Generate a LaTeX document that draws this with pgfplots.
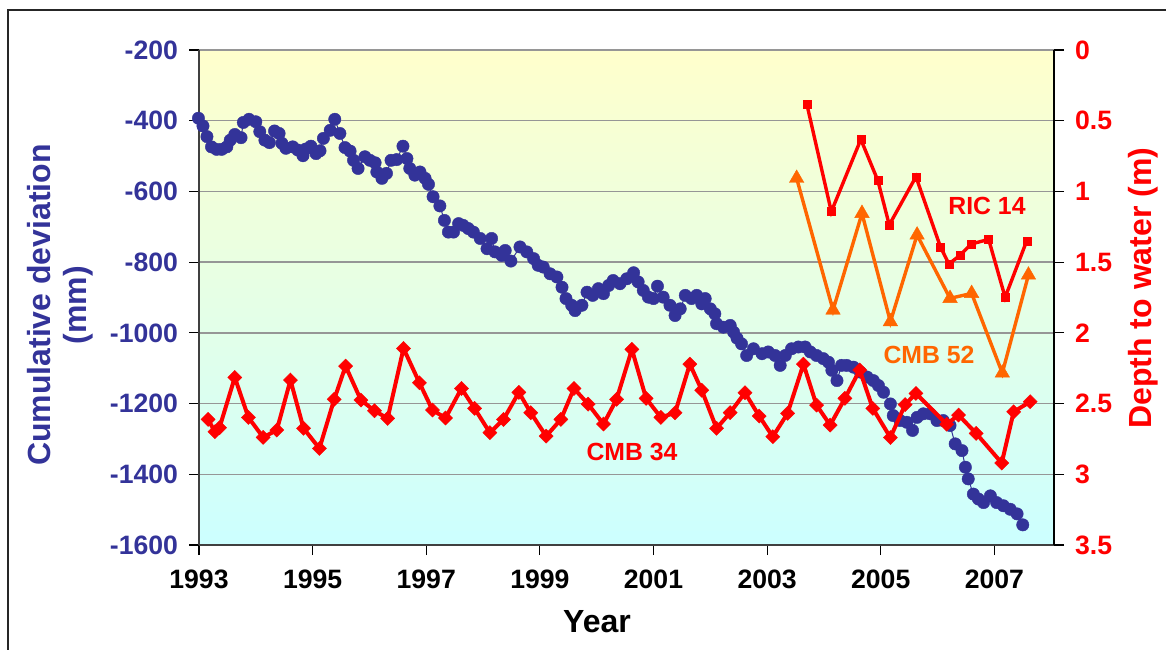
\documentclass[border=0pt]{standalone}
\usepackage{pgfplots}
\usepackage{pgfplotstable}
\pgfplotsset{compat=1.18}
\usepackage{fontspec}
\setmainfont{Liberation Sans}
\definecolor{cblue}{RGB}{51,51,153}
\definecolor{cred}{RGB}{255,0,0}
\definecolor{corange}{RGB}{255,102,0}
\definecolor{cgrid}{RGB}{150,150,150}
\definecolor{bgtop}{RGB}{255,255,204}
\definecolor{bgbot}{RGB}{204,255,255}
\definecolor{caxis}{RGB}{64,64,64}

\pgfplotstableread{
x y
1992.99 -393
1993.07 -415
1993.14 -445
1993.22 -474
1993.31 -481
1993.40 -481
1993.49 -474
1993.55 -455
1993.63 -439
1993.74 -448
1993.78 -405
1993.88 -396
1994.00 -403
1994.07 -431
1994.16 -455
1994.24 -462
1994.33 -429
1994.41 -436
1994.46 -464
1994.53 -478
1994.65 -474
1994.74 -483
1994.83 -499
1994.88 -480
1994.97 -472
1995.06 -493
1995.13 -485
1995.19 -450
1995.31 -427
1995.39 -396
1995.48 -436
1995.57 -476
1995.66 -486
1995.72 -512
1995.80 -535
1995.92 -502
1996.01 -512
1996.10 -519
1996.13 -545
1996.22 -563
1996.30 -549
1996.38 -512
1996.48 -510
1996.59 -472
1996.66 -507
1996.71 -535
1996.80 -554
1996.89 -545
1996.98 -563
1997.04 -580
1997.12 -615
1997.24 -641
1997.32 -682
1997.39 -715
1997.48 -715
1997.57 -691
1997.65 -696
1997.74 -705
1997.83 -715
1997.95 -733
1998.07 -762
1998.15 -733
1998.21 -771
1998.33 -781
1998.39 -767
1998.49 -797
1998.65 -757
1998.77 -771
1998.89 -790
1998.97 -809
1999.06 -814
1999.18 -833
1999.30 -842
1999.39 -871
1999.46 -903
1999.56 -922
1999.62 -937
1999.74 -922
1999.83 -885
1999.93 -894
2000.03 -875
2000.12 -889
2000.21 -866
2000.29 -852
2000.41 -861
2000.53 -847
2000.65 -830
2000.73 -856
2000.82 -880
2000.91 -899
2001.00 -903
2001.07 -868
2001.17 -899
2001.29 -922
2001.38 -951
2001.47 -932
2001.56 -894
2001.67 -903
2001.76 -894
2001.85 -918
2001.91 -903
2002.00 -932
2002.08 -946
2002.11 -974
2002.23 -984
2002.35 -979
2002.41 -998
2002.47 -1015
2002.55 -1031
2002.64 -1064
2002.76 -1045
2002.91 -1059
2003.02 -1054
2003.14 -1064
2003.23 -1092
2003.32 -1064
2003.43 -1045
2003.55 -1040
2003.67 -1040
2003.76 -1054
2003.87 -1064
2003.99 -1073
2004.08 -1083
2004.14 -1106
2004.23 -1135
2004.31 -1092
2004.40 -1092
2004.52 -1097
2004.64 -1111
2004.76 -1125
2004.87 -1135
2004.96 -1149
2005.05 -1168
2005.17 -1201
2005.22 -1234
2005.34 -1248
2005.46 -1253
2005.56 -1276
2005.64 -1239
2005.75 -1229
2005.87 -1229
2005.99 -1248
2006.10 -1248
2006.22 -1262
2006.31 -1314
2006.43 -1333
2006.49 -1380
2006.54 -1413
2006.63 -1456
2006.72 -1470
2006.81 -1480
2006.93 -1461
2007.04 -1480
2007.16 -1489
2007.28 -1499
2007.40 -1512
2007.50 -1543
}\cumdev

\pgfplotstableread{
x y
1993.16 2.612
1993.28 2.699
1993.36 2.671
1993.63 2.315
1993.87 2.598
1994.13 2.739
1994.37 2.687
1994.61 2.334
1994.84 2.675
1995.12 2.817
1995.38 2.470
1995.58 2.235
1995.85 2.475
1996.09 2.551
1996.32 2.605
1996.60 2.110
1996.88 2.353
1997.11 2.546
1997.34 2.602
1997.62 2.393
1997.85 2.534
1998.12 2.706
1998.36 2.612
1998.63 2.421
1998.84 2.565
1999.11 2.730
1999.37 2.612
1999.60 2.393
1999.85 2.504
2000.12 2.645
2000.35 2.470
2000.62 2.117
2000.87 2.463
2001.13 2.598
2001.38 2.565
2001.64 2.221
2001.85 2.406
2002.11 2.675
2002.35 2.564
2002.61 2.423
2002.86 2.588
2003.10 2.734
2003.36 2.569
2003.64 2.221
2003.87 2.511
2004.11 2.652
2004.37 2.463
2004.63 2.263
2004.86 2.534
2005.17 2.740
2005.43 2.507
2005.62 2.428
2006.16 2.646
2006.37 2.581
2006.68 2.711
2007.13 2.920
2007.34 2.558
2007.63 2.487
}\cmbtf

\pgfplotstableread{
x y
2003.52 0.907
2004.16 1.839
2004.67 1.155
2005.17 1.921
2005.64 1.308
2006.22 1.756
2006.60 1.721
2007.14 2.284
2007.60 1.591
}\cmbft

\pgfplotstableread{
x y
2003.70 0.384
2004.13 1.143
2004.65 0.632
2004.95 0.924
2005.15 1.237
2005.62 0.896
2006.05 1.391
2006.20 1.513
2006.40 1.450
2006.59 1.372
2006.90 1.339
2007.19 1.749
2007.57 1.349
}\ricft

\begin{document}
\begin{tikzpicture}
\path[use as bounding box] (0pt,0pt) rectangle (583pt,324.5pt);
\draw[line width=0.8pt, black!85] (4pt,-10pt) -- (4pt,319.5pt) -- (600pt,319.5pt);

\begin{axis}[
  at={(99.5pt,52pt)}, anchor=south west,
  scale only axis, width=427.5pt, height=247.5pt,
  xmin=1993, xmax=2008.05, ymin=-1600, ymax=-200,
  axis x line*=bottom, axis y line*=left,
  xtick={1993,1995,...,2007}, ytick={-1600,-1400,...,-200},
  minor tick num=0,
  tick align=outside, major tick length=5pt,
  ymajorgrids, grid style={cgrid, line width=0.7pt},
  axis line style={caxis, line width=1pt},
  major tick style={black, line width=0.6pt},
  /pgf/number format/1000 sep={},
  /pgf/number format/assume math mode=true,
  yticklabel style={text=cblue, font=\bfseries\fontsize{13.3}{15}\selectfont, xshift=-2pt},
  xticklabel style={text=black, font=\bfseries\fontsize{13.3}{15}\selectfont, yshift=-4pt},
  axis background/.style={top color=bgtop, bottom color=bgbot},
  clip=false,
  xlabel={Year},
  every axis x label/.style={at={(axis description cs:0.4655,-0.1556)}, anchor=center, font=\bfseries\fontsize{16}{18}\selectfont},
  ylabel={Cumulative deviation\\(mm)},
  every axis y label/.style={at={(axis description cs:-0.1626,0.4848)}, anchor=center, rotate=90, align=center, text=cblue, font=\bfseries\fontsize{16}{18}\selectfont},
]
\addplot[cblue, line width=0.5pt, mark=*, mark size=3.1pt, mark options={fill=cblue, draw=cblue, line width=0.2pt}] table[x=x,y=y] {\cumdev};
\end{axis}

\begin{axis}[
  at={(99.5pt,52pt)}, anchor=south west,
  scale only axis, width=427.5pt, height=247.5pt,
  xmin=1993, xmax=2008.05, ymin=0, ymax=3.5, y dir=reverse,
  axis x line=none, axis y line*=right,
  ytick={0,0.5,...,3.5},
  minor tick num=0,
  tick align=outside, major tick length=5pt,
  axis line style={black, line width=1pt},
  major tick style={black, line width=0.6pt},
  /pgf/number format/assume math mode=true,
  yticklabel style={text=cred, font=\bfseries\fontsize{13.3}{15}\selectfont, xshift=2pt},
  clip=false,
  ylabel={Depth to water (m)},
  every axis y label/.style={at={(axis description cs:1.1041,0.519)}, anchor=center, rotate=90, text=cred, font=\bfseries\fontsize{16}{18}\selectfont},
]
\addplot[cred, line width=2pt, mark=square*, mark size=2.5pt, mark options={rotate=45, fill=cred, draw=cred, line width=0.2pt}] table[x=x,y=y] {\cmbtf};
\addplot[corange, line width=1.7pt, mark=triangle*, mark size=4.2pt, mark options={fill=corange, draw=corange, line width=0.2pt}] table[x=x,y=y] {\cmbft};
\addplot[cred, line width=1.7pt, mark=square*, mark size=2pt, mark options={fill=cred, draw=cred, line width=0.2pt}] table[x=x,y=y] {\ricft};
\end{axis}

\node[text=cred, font=\bfseries\fontsize{12.4}{14}\selectfont, anchor=center] at (316pt,98.5pt) {CMB 34};
\node[text=corange, font=\bfseries\fontsize{12.4}{14}\selectfont, anchor=center] at (464.5pt,147pt) {CMB 52};
\node[text=cred, font=\bfseries\fontsize{12.4}{14}\selectfont, anchor=center] at (493.5pt,221.5pt) {RIC 14};
\end{tikzpicture}
\end{document}
